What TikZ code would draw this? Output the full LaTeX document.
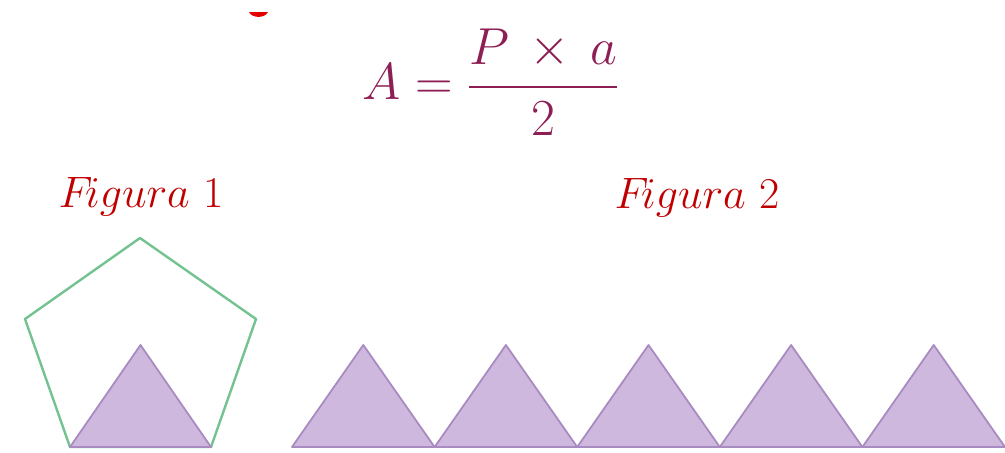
\RequirePackage{fix-cm}
\documentclass[tikz,border=0pt]{standalone}
\usepackage{amsmath}
\usepackage{xcolor}
\definecolor{formulared}{HTML}{8E1F55}
\definecolor{labelred}{HTML}{C00000}
\definecolor{pentagreen}{HTML}{74C290}
\definecolor{trifill}{HTML}{CFB8DD}
\definecolor{triedge}{HTML}{A88BC0}
\usepackage{tikz}
\usetikzlibrary{positioning}
\tikzstyle{formula} = [
  text=formulared, font=\fontsize{26}{30}\selectfont, inner sep=0pt
]
\tikzstyle{figlabel} = [
  text=labelred, font=\fontsize{22}{26}\selectfont, inner sep=0pt, anchor=base
]
\tikzstyle{penta} = [
  draw=pentagreen, line width=1.2pt, line join=round
]
\tikzstyle{tri} = [
  fill=trifill, draw=triedge, line width=0.9pt, line join=round
]

\begin{document}
\begin{tikzpicture}[x=0.5pt, y=-0.5pt]
  \useasboundingbox (0,0) rectangle (1005,452);

  % red remnant at the top
  \fill[red!90!black] (249,12) .. controls (252,18.5) and (265,18.5) .. (268,12) -- cycle;

  % formula
  \node[formula] (area) at (491,82)
    {$A=\dfrac{P\mathbin{\,\times\,}a}{2}$};

  % figure labels
  \node[figlabel] (fig1) at (141,207) {$F\!igura\ 1$};
  \node[figlabel] (fig2) at (697,208) {$F\!igura\ 2$};

  % figure 1: pentagon with one triangle
  \draw[penta] (140,238) -- (256,319) -- (211,447)
    -- (70,447) -- (25,319) -- cycle;
  \draw[tri] (70,447) -- (140.5,345) -- (211,447) -- cycle;

  % figure 2: five triangles in a row
  \foreach \i in {0,...,4} {
    \coordinate (b\i) at ({292+142.6*\i},447);
    \coordinate (t\i) at ({363.3+142.6*\i},345);
    \coordinate (e\i) at ({434.6+142.6*\i},447);
    \draw[tri] (b\i) -- (t\i) -- (e\i) -- cycle;
  }

\end{tikzpicture}
\end{document}
